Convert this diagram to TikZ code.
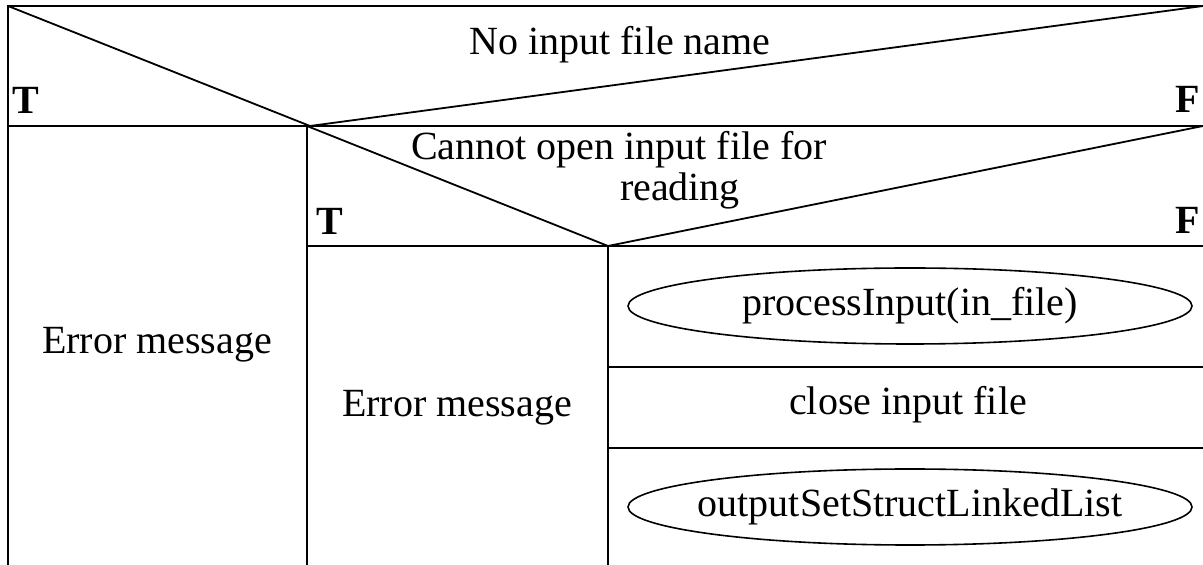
\documentclass[tikz,border=0pt]{standalone}
\usepackage{fontspec}
\setmainfont{Liberation Serif}
\usetikzlibrary{shapes.geometric}
\begin{document}
\begin{tikzpicture}[x=0.5pt,y=-0.5pt,
  rule/.style={line width=0.9pt,black},
  label/.style={inner sep=0pt,font=\fontsize{20}{20.5}\selectfont},
  tf/.style={inner sep=0pt,font=\fontsize{20}{20}\selectfont\bfseries},
  call/.style={ellipse,draw,line width=0.8pt,inner sep=0pt,
    minimum width=282pt,minimum height=38pt,
    font=\fontsize{20}{20}\selectfont}]
\useasboundingbox (0,0) rectangle (1203,565);

% frame corners and split points
\coordinate (tl) at (8,6);
\coordinate (tr) at (1203,6);
\coordinate (bl) at (8,565);
\coordinate (r1l) at (8,126);
\coordinate (r1r) at (1203,126);
\coordinate (v1t) at (307,126);
\coordinate (v1b) at (307,565);
\coordinate (tip1) at (310,126);
\coordinate (r2r) at (1203,246);
\coordinate (v2t) at (608,246);
\coordinate (v2b) at (608,565);
\coordinate (s1l) at (608,367);
\coordinate (s1r) at (1203,367);
\coordinate (s2l) at (608,448);
\coordinate (s2r) at (1203,448);

% outer frame and first decision
\draw[rule] (bl) -- (tl) -- (tr);
\draw[rule] (r1l) -- (r1r);
\draw[rule] (tl) -- (tip1) -- (tr);

% second decision
\draw[rule] (v1t) -- (v1b);
\draw[rule] (v1t) -- (r2r -| v1t) -- (r2r);
\draw[rule] (v1t) -- (v2t) -- (r1r);

% sequence column
\draw[rule] (v2t) -- (v2b);
\draw[rule] (s1l) -- (s1r);
\draw[rule] (s2l) -- (s2r);

% texts
\node[label,anchor=base] (c1) at (620,55) {No input file name};
\node[tf,anchor=base west] (t1) at (12,114) {T};
\node[tf,anchor=base east] (f1) at (1200,113) {F};

\node[label,anchor=base] (c2) at (619,160) {Cannot open input file for};
\node[label,anchor=base] (c2b) at (680,201) {reading};
\node[tf,anchor=base west] (t2) at (316,235) {T};
\node[tf,anchor=base east] (f2) at (1200,234) {F};

\node[label] (e1) at (157,345) {Error message};
\node[label,anchor=base] (e2) at (457,417) {Error message};

% calls: the ellipse size is fixed, the text is set in a zero-width box
\node[call] (p1) at (910,306) {\makebox[0pt]{processInput(in\_file)}};
\node[label,anchor=base] (cl) at (908,415) {close input file};
\node[call] (p2) at (910,507) {\makebox[0pt]{outputSetStructLinkedList}};
\end{tikzpicture}
\end{document}
